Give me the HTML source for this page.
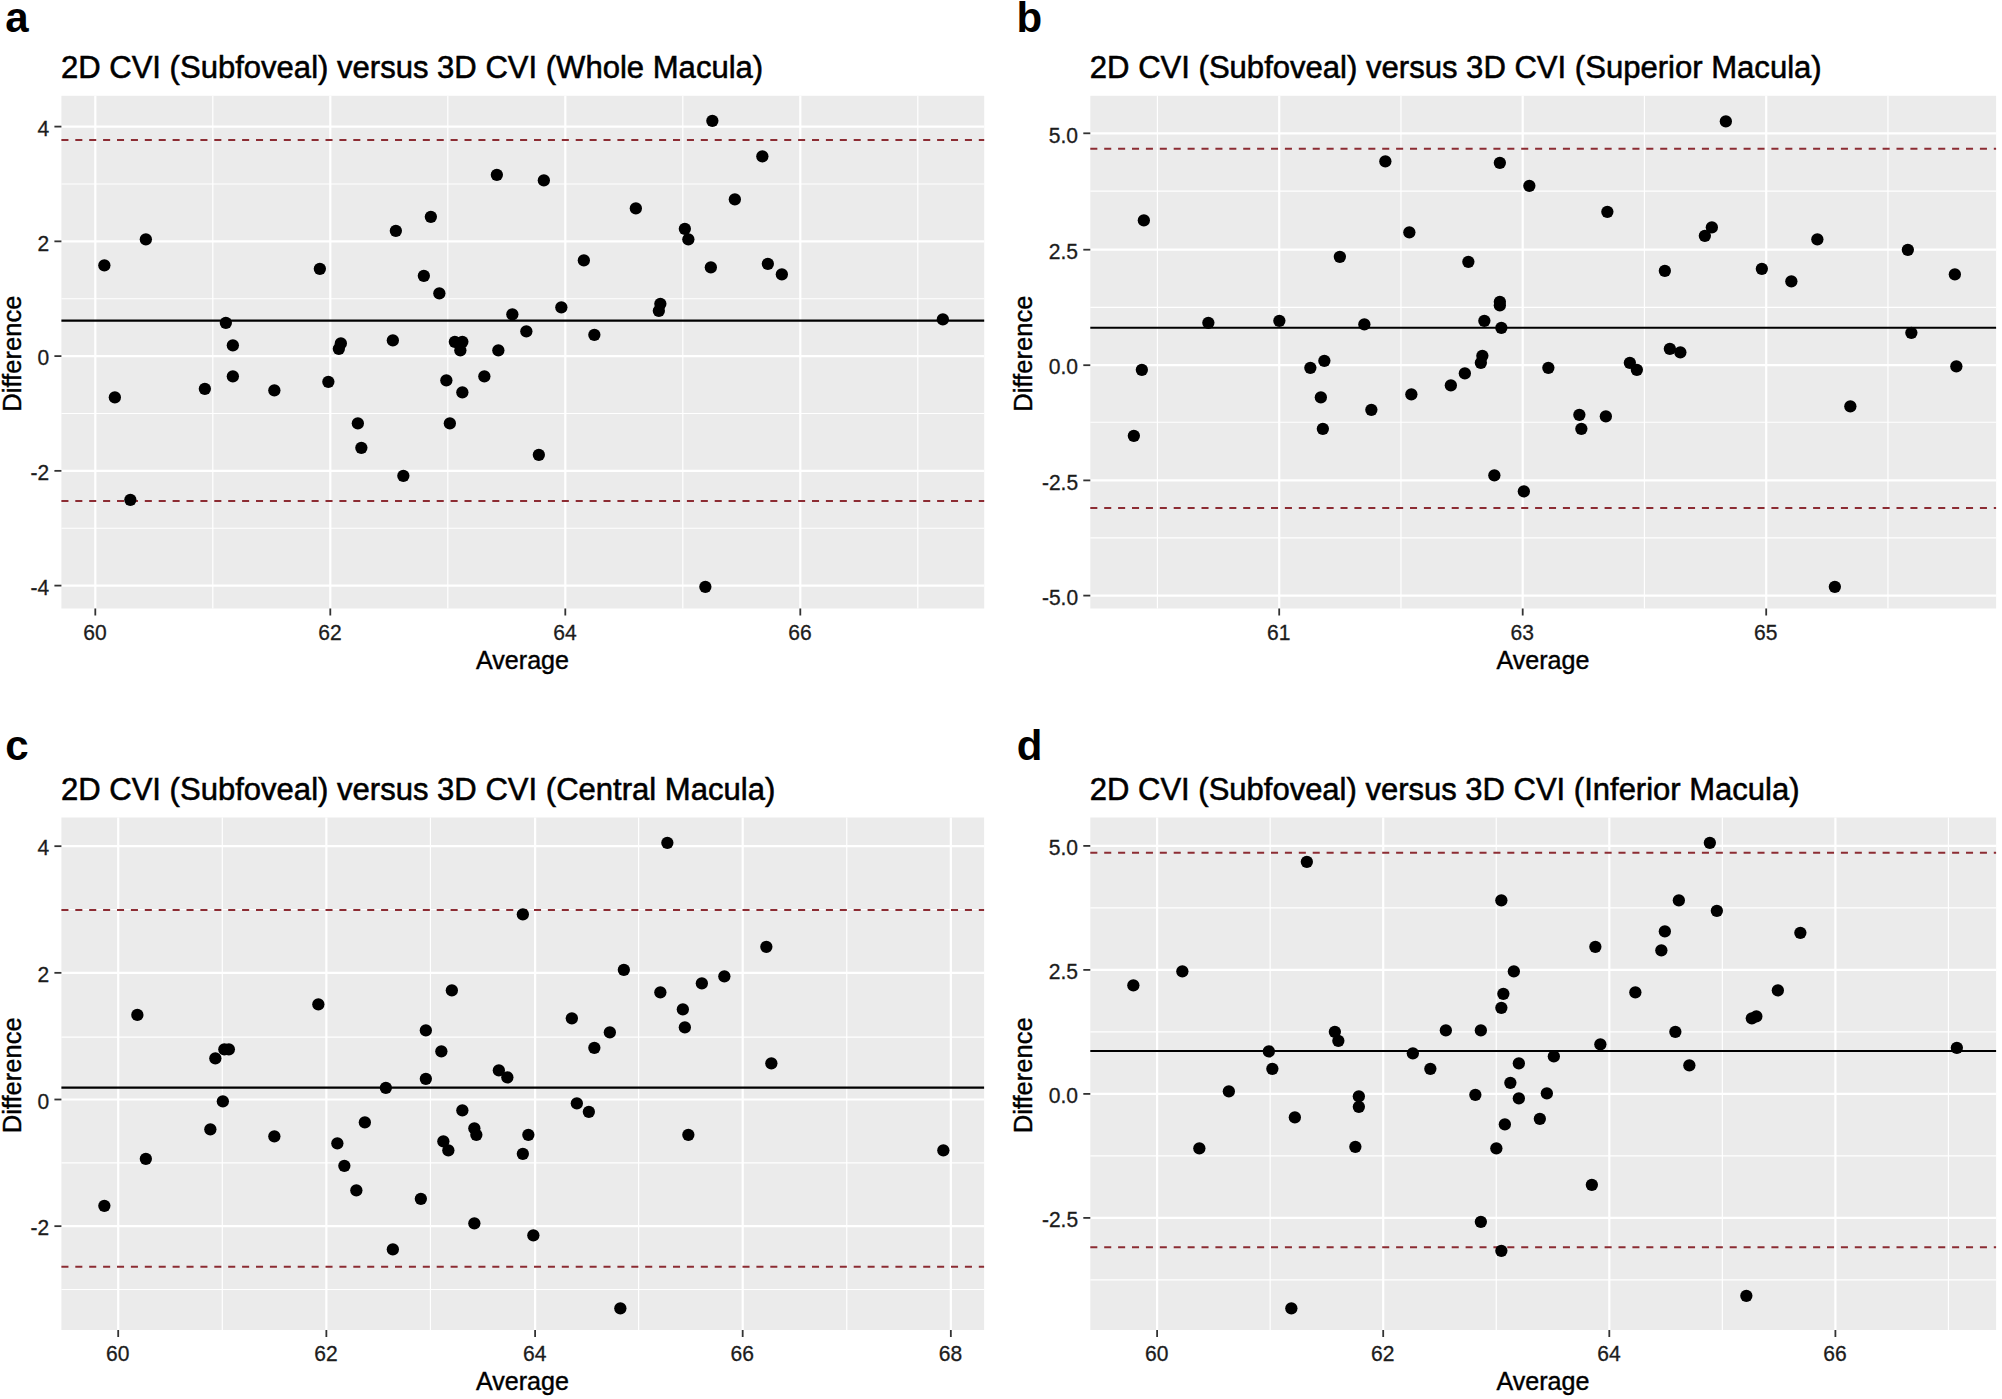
<!DOCTYPE html>
<html lang="en">
<head>
<meta charset="utf-8">
<title>Bland-Altman plots: 2D CVI versus 3D CVI</title>
<style>
html,body{margin:0;padding:0;background:#fff;}
body{width:2002px;height:1399px;overflow:hidden;}
svg{display:block;}
text{font-family:"Liberation Sans",Arial,Helvetica,sans-serif;}
.ttl{font-size:30.6px;fill:#000;stroke:#000;stroke-width:0.55px;}
.axt{font-size:25.1px;fill:#000;stroke:#000;stroke-width:0.4px;}
.tk{font-size:21.9px;fill:#1c1c1c;stroke:#1c1c1c;stroke-width:0.3px;}
.lt{font-size:42px;font-weight:bold;fill:#000;}
.maj{stroke:#fff;stroke-width:2.2;}
.min{stroke:#fff;stroke-width:1.2;}
.red{stroke:#8c2c33;stroke-width:2;stroke-dasharray:7.05 6.85;fill:none;}
.blk{stroke:#000;stroke-width:2.1;}
.tm{stroke:#333333;stroke-width:1.8;}
.pt{fill:#000;}
</style>
</head>
<body>
<svg width="2002" height="1399" viewBox="0 0 2002 1399">
<rect x="0" y="0" width="2002" height="1399" fill="#fff"/>
<g>
<text class="lt" x="5.3" y="32.2">a</text>
<text class="ttl" x="60.9" y="78.3" textLength="702.3" lengthAdjust="spacingAndGlyphs">2D CVI (Subfoveal) versus 3D CVI (Whole Macula)</text>
<rect x="61.4" y="95.8" width="922.8" height="512.7" fill="#ebebeb"/>
<line class="min" x1="61.4" x2="984.2" y1="183.98" y2="183.98"/>
<line class="min" x1="61.4" x2="984.2" y1="298.73" y2="298.73"/>
<line class="min" x1="61.4" x2="984.2" y1="413.48" y2="413.48"/>
<line class="min" x1="61.4" x2="984.2" y1="528.23" y2="528.23"/>
<line class="min" x1="212.8" x2="212.8" y1="95.8" y2="608.5"/>
<line class="min" x1="447.8" x2="447.8" y1="95.8" y2="608.5"/>
<line class="min" x1="682.8" x2="682.8" y1="95.8" y2="608.5"/>
<line class="min" x1="917.8" x2="917.8" y1="95.8" y2="608.5"/>
<line class="maj" x1="61.4" x2="984.2" y1="126.6" y2="126.6"/>
<line class="maj" x1="61.4" x2="984.2" y1="241.35" y2="241.35"/>
<line class="maj" x1="61.4" x2="984.2" y1="356.1" y2="356.1"/>
<line class="maj" x1="61.4" x2="984.2" y1="470.85" y2="470.85"/>
<line class="maj" x1="61.4" x2="984.2" y1="585.6" y2="585.6"/>
<line class="maj" x1="95.3" x2="95.3" y1="95.8" y2="608.5"/>
<line class="maj" x1="330.3" x2="330.3" y1="95.8" y2="608.5"/>
<line class="maj" x1="565.3" x2="565.3" y1="95.8" y2="608.5"/>
<line class="maj" x1="800.3" x2="800.3" y1="95.8" y2="608.5"/>
<line class="blk" x1="61.4" x2="984.2" y1="320.6" y2="320.6"/>
<line class="red" x1="61.4" x2="984.2" y1="140" y2="140"/>
<line class="red" x1="61.4" x2="984.2" y1="501" y2="501"/>
<line class="tm" x1="54.4" x2="61.4" y1="126.6" y2="126.6"/>
<text class="tk" text-anchor="end" x="49.2" y="135.8" textLength="11.7" lengthAdjust="spacingAndGlyphs">4</text>
<line class="tm" x1="54.4" x2="61.4" y1="241.35" y2="241.35"/>
<text class="tk" text-anchor="end" x="49.2" y="250.55" textLength="11.7" lengthAdjust="spacingAndGlyphs">2</text>
<line class="tm" x1="54.4" x2="61.4" y1="356.1" y2="356.1"/>
<text class="tk" text-anchor="end" x="49.2" y="365.3" textLength="11.7" lengthAdjust="spacingAndGlyphs">0</text>
<line class="tm" x1="54.4" x2="61.4" y1="470.85" y2="470.85"/>
<text class="tk" text-anchor="end" x="49.2" y="480.05" textLength="18.6" lengthAdjust="spacingAndGlyphs">-2</text>
<line class="tm" x1="54.4" x2="61.4" y1="585.6" y2="585.6"/>
<text class="tk" text-anchor="end" x="49.2" y="594.8" textLength="18.6" lengthAdjust="spacingAndGlyphs">-4</text>
<line class="tm" x1="95.3" x2="95.3" y1="608.5" y2="615.5"/>
<text class="tk" text-anchor="middle" x="94.9" y="639.9" textLength="23.4" lengthAdjust="spacingAndGlyphs">60</text>
<line class="tm" x1="330.3" x2="330.3" y1="608.5" y2="615.5"/>
<text class="tk" text-anchor="middle" x="329.9" y="639.9" textLength="23.4" lengthAdjust="spacingAndGlyphs">62</text>
<line class="tm" x1="565.3" x2="565.3" y1="608.5" y2="615.5"/>
<text class="tk" text-anchor="middle" x="564.9" y="639.9" textLength="23.4" lengthAdjust="spacingAndGlyphs">64</text>
<line class="tm" x1="800.3" x2="800.3" y1="608.5" y2="615.5"/>
<text class="tk" text-anchor="middle" x="799.9" y="639.9" textLength="23.4" lengthAdjust="spacingAndGlyphs">66</text>
<text class="axt" text-anchor="middle" x="522.5" y="669.2" textLength="92.9" lengthAdjust="spacingAndGlyphs">Average</text>
<text class="axt" text-anchor="middle" transform="translate(21.2 353.65) rotate(-90)" textLength="116.2" lengthAdjust="spacingAndGlyphs">Difference</text>
<circle class="pt" cx="104.35" cy="265.35" r="6.15"/>
<circle class="pt" cx="114.85" cy="397.35" r="6.15"/>
<circle class="pt" cx="130.35" cy="499.85" r="6.15"/>
<circle class="pt" cx="145.85" cy="239.35" r="6.15"/>
<circle class="pt" cx="204.85" cy="388.85" r="6.15"/>
<circle class="pt" cx="225.85" cy="322.85" r="6.15"/>
<circle class="pt" cx="232.85" cy="345.35" r="6.15"/>
<circle class="pt" cx="232.85" cy="376.35" r="6.15"/>
<circle class="pt" cx="274.35" cy="390.35" r="6.15"/>
<circle class="pt" cx="319.85" cy="268.85" r="6.15"/>
<circle class="pt" cx="328.35" cy="381.85" r="6.15"/>
<circle class="pt" cx="338.85" cy="348.85" r="6.15"/>
<circle class="pt" cx="340.85" cy="343.35" r="6.15"/>
<circle class="pt" cx="357.85" cy="423.35" r="6.15"/>
<circle class="pt" cx="361.35" cy="447.85" r="6.15"/>
<circle class="pt" cx="392.85" cy="340.35" r="6.15"/>
<circle class="pt" cx="395.85" cy="230.85" r="6.15"/>
<circle class="pt" cx="403.35" cy="475.85" r="6.15"/>
<circle class="pt" cx="423.85" cy="275.85" r="6.15"/>
<circle class="pt" cx="430.85" cy="216.85" r="6.15"/>
<circle class="pt" cx="439.35" cy="293.35" r="6.15"/>
<circle class="pt" cx="446.35" cy="380.35" r="6.15"/>
<circle class="pt" cx="449.85" cy="423.35" r="6.15"/>
<circle class="pt" cx="454.85" cy="341.85" r="6.15"/>
<circle class="pt" cx="460.35" cy="350.35" r="6.15"/>
<circle class="pt" cx="462.35" cy="341.85" r="6.15"/>
<circle class="pt" cx="462.35" cy="392.35" r="6.15"/>
<circle class="pt" cx="484.35" cy="376.35" r="6.15"/>
<circle class="pt" cx="496.85" cy="174.85" r="6.15"/>
<circle class="pt" cx="498.35" cy="350.35" r="6.15"/>
<circle class="pt" cx="512.35" cy="314.35" r="6.15"/>
<circle class="pt" cx="526.35" cy="331.35" r="6.15"/>
<circle class="pt" cx="538.85" cy="454.85" r="6.15"/>
<circle class="pt" cx="543.85" cy="180.35" r="6.15"/>
<circle class="pt" cx="561.35" cy="307.35" r="6.15"/>
<circle class="pt" cx="583.85" cy="260.35" r="6.15"/>
<circle class="pt" cx="594.35" cy="334.85" r="6.15"/>
<circle class="pt" cx="635.85" cy="208.35" r="6.15"/>
<circle class="pt" cx="658.85" cy="310.85" r="6.15"/>
<circle class="pt" cx="660.35" cy="303.85" r="6.15"/>
<circle class="pt" cx="684.85" cy="228.85" r="6.15"/>
<circle class="pt" cx="688.35" cy="239.35" r="6.15"/>
<circle class="pt" cx="710.85" cy="267.35" r="6.15"/>
<circle class="pt" cx="705.35" cy="586.85" r="6.15"/>
<circle class="pt" cx="712.35" cy="120.85" r="6.15"/>
<circle class="pt" cx="734.85" cy="199.35" r="6.15"/>
<circle class="pt" cx="762.35" cy="156.35" r="6.15"/>
<circle class="pt" cx="767.85" cy="263.85" r="6.15"/>
<circle class="pt" cx="781.85" cy="274.35" r="6.15"/>
<circle class="pt" cx="942.85" cy="319.35" r="6.15"/>
</g>
<g>
<text class="lt" x="1016.6" y="32.2">b</text>
<text class="ttl" x="1089.8" y="78.3" textLength="731.9" lengthAdjust="spacingAndGlyphs">2D CVI (Subfoveal) versus 3D CVI (Superior Macula)</text>
<rect x="1090.3" y="95.8" width="905.8" height="512.7" fill="#ebebeb"/>
<line class="min" x1="1090.3" x2="1996.1" y1="191.09" y2="191.09"/>
<line class="min" x1="1090.3" x2="1996.1" y1="307.3" y2="307.3"/>
<line class="min" x1="1090.3" x2="1996.1" y1="422.24" y2="422.24"/>
<line class="min" x1="1090.3" x2="1996.1" y1="537.81" y2="537.81"/>
<line class="min" x1="1157.45" x2="1157.45" y1="95.8" y2="608.5"/>
<line class="min" x1="1400.95" x2="1400.95" y1="95.8" y2="608.5"/>
<line class="min" x1="1644.45" x2="1644.45" y1="95.8" y2="608.5"/>
<line class="min" x1="1887.95" x2="1887.95" y1="95.8" y2="608.5"/>
<line class="maj" x1="1090.3" x2="1996.1" y1="133.3" y2="133.3"/>
<line class="maj" x1="1090.3" x2="1996.1" y1="249.7" y2="249.7"/>
<line class="maj" x1="1090.3" x2="1996.1" y1="365.2" y2="365.2"/>
<line class="maj" x1="1090.3" x2="1996.1" y1="480.4" y2="480.4"/>
<line class="maj" x1="1090.3" x2="1996.1" y1="595.6" y2="595.6"/>
<line class="maj" x1="1279.2" x2="1279.2" y1="95.8" y2="608.5"/>
<line class="maj" x1="1522.7" x2="1522.7" y1="95.8" y2="608.5"/>
<line class="maj" x1="1766.2" x2="1766.2" y1="95.8" y2="608.5"/>
<line class="blk" x1="1090.3" x2="1996.1" y1="327.8" y2="327.8"/>
<line class="red" x1="1090.3" x2="1996.1" y1="148.8" y2="148.8"/>
<line class="red" x1="1090.3" x2="1996.1" y1="508" y2="508"/>
<line class="tm" x1="1083.3" x2="1090.3" y1="133.3" y2="133.3"/>
<text class="tk" text-anchor="end" x="1078.1" y="142.5" textLength="29.3" lengthAdjust="spacingAndGlyphs">5.0</text>
<line class="tm" x1="1083.3" x2="1090.3" y1="249.7" y2="249.7"/>
<text class="tk" text-anchor="end" x="1078.1" y="258.9" textLength="29.3" lengthAdjust="spacingAndGlyphs">2.5</text>
<line class="tm" x1="1083.3" x2="1090.3" y1="365.2" y2="365.2"/>
<text class="tk" text-anchor="end" x="1078.1" y="374.4" textLength="29.3" lengthAdjust="spacingAndGlyphs">0.0</text>
<line class="tm" x1="1083.3" x2="1090.3" y1="480.4" y2="480.4"/>
<text class="tk" text-anchor="end" x="1078.1" y="489.6" textLength="36.2" lengthAdjust="spacingAndGlyphs">-2.5</text>
<line class="tm" x1="1083.3" x2="1090.3" y1="595.6" y2="595.6"/>
<text class="tk" text-anchor="end" x="1078.1" y="604.8" textLength="36.2" lengthAdjust="spacingAndGlyphs">-5.0</text>
<line class="tm" x1="1279.2" x2="1279.2" y1="608.5" y2="615.5"/>
<text class="tk" text-anchor="middle" x="1278.8" y="639.9" textLength="23.4" lengthAdjust="spacingAndGlyphs">61</text>
<line class="tm" x1="1522.7" x2="1522.7" y1="608.5" y2="615.5"/>
<text class="tk" text-anchor="middle" x="1522.3" y="639.9" textLength="23.4" lengthAdjust="spacingAndGlyphs">63</text>
<line class="tm" x1="1766.2" x2="1766.2" y1="608.5" y2="615.5"/>
<text class="tk" text-anchor="middle" x="1765.8" y="639.9" textLength="23.4" lengthAdjust="spacingAndGlyphs">65</text>
<text class="axt" text-anchor="middle" x="1542.9" y="669.2" textLength="92.9" lengthAdjust="spacingAndGlyphs">Average</text>
<text class="axt" text-anchor="middle" transform="translate(1031.8 353.65) rotate(-90)" textLength="116.2" lengthAdjust="spacingAndGlyphs">Difference</text>
<circle class="pt" cx="1133.85" cy="435.85" r="6.15"/>
<circle class="pt" cx="1141.85" cy="369.85" r="6.15"/>
<circle class="pt" cx="1143.85" cy="220.35" r="6.15"/>
<circle class="pt" cx="1208.35" cy="322.85" r="6.15"/>
<circle class="pt" cx="1279.35" cy="320.85" r="6.15"/>
<circle class="pt" cx="1310.35" cy="367.85" r="6.15"/>
<circle class="pt" cx="1324.35" cy="360.85" r="6.15"/>
<circle class="pt" cx="1320.85" cy="397.35" r="6.15"/>
<circle class="pt" cx="1322.85" cy="428.85" r="6.15"/>
<circle class="pt" cx="1339.85" cy="256.85" r="6.15"/>
<circle class="pt" cx="1364.35" cy="324.35" r="6.15"/>
<circle class="pt" cx="1371.35" cy="409.85" r="6.15"/>
<circle class="pt" cx="1385.35" cy="161.35" r="6.15"/>
<circle class="pt" cx="1409.35" cy="232.35" r="6.15"/>
<circle class="pt" cx="1411.35" cy="394.35" r="6.15"/>
<circle class="pt" cx="1450.85" cy="385.35" r="6.15"/>
<circle class="pt" cx="1464.85" cy="373.35" r="6.15"/>
<circle class="pt" cx="1468.35" cy="261.85" r="6.15"/>
<circle class="pt" cx="1480.85" cy="362.85" r="6.15"/>
<circle class="pt" cx="1482.35" cy="355.85" r="6.15"/>
<circle class="pt" cx="1484.35" cy="320.85" r="6.15"/>
<circle class="pt" cx="1494.35" cy="475.35" r="6.15"/>
<circle class="pt" cx="1499.85" cy="162.85" r="6.15"/>
<circle class="pt" cx="1499.85" cy="301.85" r="6.15"/>
<circle class="pt" cx="1499.85" cy="305.35" r="6.15"/>
<circle class="pt" cx="1501.35" cy="327.85" r="6.15"/>
<circle class="pt" cx="1523.85" cy="491.35" r="6.15"/>
<circle class="pt" cx="1529.35" cy="185.85" r="6.15"/>
<circle class="pt" cx="1548.35" cy="367.85" r="6.15"/>
<circle class="pt" cx="1579.35" cy="414.85" r="6.15"/>
<circle class="pt" cx="1581.35" cy="428.85" r="6.15"/>
<circle class="pt" cx="1605.85" cy="416.35" r="6.15"/>
<circle class="pt" cx="1607.35" cy="211.85" r="6.15"/>
<circle class="pt" cx="1629.85" cy="362.85" r="6.15"/>
<circle class="pt" cx="1636.85" cy="369.85" r="6.15"/>
<circle class="pt" cx="1664.85" cy="270.85" r="6.15"/>
<circle class="pt" cx="1669.85" cy="348.85" r="6.15"/>
<circle class="pt" cx="1680.35" cy="352.35" r="6.15"/>
<circle class="pt" cx="1704.85" cy="235.85" r="6.15"/>
<circle class="pt" cx="1711.85" cy="227.35" r="6.15"/>
<circle class="pt" cx="1725.85" cy="121.35" r="6.15"/>
<circle class="pt" cx="1761.85" cy="268.85" r="6.15"/>
<circle class="pt" cx="1791.35" cy="281.35" r="6.15"/>
<circle class="pt" cx="1817.35" cy="239.35" r="6.15"/>
<circle class="pt" cx="1834.85" cy="586.85" r="6.15"/>
<circle class="pt" cx="1850.35" cy="406.35" r="6.15"/>
<circle class="pt" cx="1907.85" cy="249.85" r="6.15"/>
<circle class="pt" cx="1911.35" cy="332.85" r="6.15"/>
<circle class="pt" cx="1954.85" cy="274.35" r="6.15"/>
<circle class="pt" cx="1956.35" cy="366.35" r="6.15"/>
</g>
<g>
<text class="lt" x="5.3" y="759.7">c</text>
<text class="ttl" x="60.9" y="799.8" textLength="714.4" lengthAdjust="spacingAndGlyphs">2D CVI (Subfoveal) versus 3D CVI (Central Macula)</text>
<rect x="61.4" y="817.5" width="922.7" height="512.5" fill="#ebebeb"/>
<line class="min" x1="61.4" x2="984.1" y1="909.51" y2="909.51"/>
<line class="min" x1="61.4" x2="984.1" y1="1037.2" y2="1037.2"/>
<line class="min" x1="61.4" x2="984.1" y1="1162.83" y2="1162.83"/>
<line class="min" x1="61.4" x2="984.1" y1="1289.49" y2="1289.49"/>
<line class="min" x1="222.28" x2="222.28" y1="817.5" y2="1330"/>
<line class="min" x1="430.44" x2="430.44" y1="817.5" y2="1330"/>
<line class="min" x1="638.6" x2="638.6" y1="817.5" y2="1330"/>
<line class="min" x1="846.76" x2="846.76" y1="817.5" y2="1330"/>
<line class="maj" x1="61.4" x2="984.1" y1="846.18" y2="846.18"/>
<line class="maj" x1="61.4" x2="984.1" y1="972.84" y2="972.84"/>
<line class="maj" x1="61.4" x2="984.1" y1="1099.5" y2="1099.5"/>
<line class="maj" x1="61.4" x2="984.1" y1="1226.16" y2="1226.16"/>
<line class="maj" x1="118.2" x2="118.2" y1="817.5" y2="1330"/>
<line class="maj" x1="326.36" x2="326.36" y1="817.5" y2="1330"/>
<line class="maj" x1="535.1" x2="535.1" y1="817.5" y2="1330"/>
<line class="maj" x1="742.68" x2="742.68" y1="817.5" y2="1330"/>
<line class="maj" x1="950.84" x2="950.84" y1="817.5" y2="1330"/>
<line class="blk" x1="61.4" x2="984.1" y1="1087.6" y2="1087.6"/>
<line class="red" x1="61.4" x2="984.1" y1="910" y2="910"/>
<line class="red" x1="61.4" x2="984.1" y1="1266.7" y2="1266.7"/>
<line class="tm" x1="54.4" x2="61.4" y1="846.18" y2="846.18"/>
<text class="tk" text-anchor="end" x="49.2" y="855.38" textLength="11.7" lengthAdjust="spacingAndGlyphs">4</text>
<line class="tm" x1="54.4" x2="61.4" y1="972.84" y2="972.84"/>
<text class="tk" text-anchor="end" x="49.2" y="982.04" textLength="11.7" lengthAdjust="spacingAndGlyphs">2</text>
<line class="tm" x1="54.4" x2="61.4" y1="1099.5" y2="1099.5"/>
<text class="tk" text-anchor="end" x="49.2" y="1108.7" textLength="11.7" lengthAdjust="spacingAndGlyphs">0</text>
<line class="tm" x1="54.4" x2="61.4" y1="1226.16" y2="1226.16"/>
<text class="tk" text-anchor="end" x="49.2" y="1235.36" textLength="18.6" lengthAdjust="spacingAndGlyphs">-2</text>
<line class="tm" x1="118.2" x2="118.2" y1="1330" y2="1337"/>
<text class="tk" text-anchor="middle" x="117.8" y="1361.4" textLength="23.4" lengthAdjust="spacingAndGlyphs">60</text>
<line class="tm" x1="326.36" x2="326.36" y1="1330" y2="1337"/>
<text class="tk" text-anchor="middle" x="325.96" y="1361.4" textLength="23.4" lengthAdjust="spacingAndGlyphs">62</text>
<line class="tm" x1="535.1" x2="535.1" y1="1330" y2="1337"/>
<text class="tk" text-anchor="middle" x="534.7" y="1361.4" textLength="23.4" lengthAdjust="spacingAndGlyphs">64</text>
<line class="tm" x1="742.68" x2="742.68" y1="1330" y2="1337"/>
<text class="tk" text-anchor="middle" x="742.28" y="1361.4" textLength="23.4" lengthAdjust="spacingAndGlyphs">66</text>
<line class="tm" x1="950.84" x2="950.84" y1="1330" y2="1337"/>
<text class="tk" text-anchor="middle" x="950.44" y="1361.4" textLength="23.4" lengthAdjust="spacingAndGlyphs">68</text>
<text class="axt" text-anchor="middle" x="522.45" y="1390" textLength="92.9" lengthAdjust="spacingAndGlyphs">Average</text>
<text class="axt" text-anchor="middle" transform="translate(21.2 1075.25) rotate(-90)" textLength="116.2" lengthAdjust="spacingAndGlyphs">Difference</text>
<circle class="pt" cx="104.35" cy="1205.85" r="6.15"/>
<circle class="pt" cx="137.35" cy="1014.85" r="6.15"/>
<circle class="pt" cx="145.85" cy="1158.85" r="6.15"/>
<circle class="pt" cx="210.35" cy="1129.35" r="6.15"/>
<circle class="pt" cx="215.35" cy="1058.35" r="6.15"/>
<circle class="pt" cx="222.85" cy="1101.35" r="6.15"/>
<circle class="pt" cx="224.35" cy="1049.35" r="6.15"/>
<circle class="pt" cx="228.85" cy="1049.35" r="6.15"/>
<circle class="pt" cx="274.35" cy="1136.35" r="6.15"/>
<circle class="pt" cx="318.35" cy="1004.35" r="6.15"/>
<circle class="pt" cx="337.35" cy="1143.35" r="6.15"/>
<circle class="pt" cx="344.35" cy="1165.85" r="6.15"/>
<circle class="pt" cx="356.35" cy="1190.35" r="6.15"/>
<circle class="pt" cx="364.85" cy="1122.35" r="6.15"/>
<circle class="pt" cx="385.85" cy="1087.85" r="6.15"/>
<circle class="pt" cx="392.85" cy="1249.35" r="6.15"/>
<circle class="pt" cx="420.85" cy="1198.85" r="6.15"/>
<circle class="pt" cx="425.85" cy="1030.35" r="6.15"/>
<circle class="pt" cx="425.85" cy="1078.85" r="6.15"/>
<circle class="pt" cx="441.35" cy="1051.35" r="6.15"/>
<circle class="pt" cx="443.35" cy="1141.35" r="6.15"/>
<circle class="pt" cx="448.35" cy="1150.35" r="6.15"/>
<circle class="pt" cx="451.85" cy="990.35" r="6.15"/>
<circle class="pt" cx="462.35" cy="1110.35" r="6.15"/>
<circle class="pt" cx="474.35" cy="1128.35" r="6.15"/>
<circle class="pt" cx="476.35" cy="1134.85" r="6.15"/>
<circle class="pt" cx="474.35" cy="1223.35" r="6.15"/>
<circle class="pt" cx="498.85" cy="1070.35" r="6.15"/>
<circle class="pt" cx="507.35" cy="1077.35" r="6.15"/>
<circle class="pt" cx="522.85" cy="914.35" r="6.15"/>
<circle class="pt" cx="522.85" cy="1153.85" r="6.15"/>
<circle class="pt" cx="528.35" cy="1134.85" r="6.15"/>
<circle class="pt" cx="533.35" cy="1235.35" r="6.15"/>
<circle class="pt" cx="571.85" cy="1018.35" r="6.15"/>
<circle class="pt" cx="576.85" cy="1103.35" r="6.15"/>
<circle class="pt" cx="588.85" cy="1111.85" r="6.15"/>
<circle class="pt" cx="594.35" cy="1047.85" r="6.15"/>
<circle class="pt" cx="609.85" cy="1032.35" r="6.15"/>
<circle class="pt" cx="623.85" cy="969.85" r="6.15"/>
<circle class="pt" cx="620.35" cy="1308.35" r="6.15"/>
<circle class="pt" cx="660.35" cy="992.35" r="6.15"/>
<circle class="pt" cx="667.35" cy="842.85" r="6.15"/>
<circle class="pt" cx="682.85" cy="1009.35" r="6.15"/>
<circle class="pt" cx="684.85" cy="1027.35" r="6.15"/>
<circle class="pt" cx="688.35" cy="1134.85" r="6.15"/>
<circle class="pt" cx="701.85" cy="983.35" r="6.15"/>
<circle class="pt" cx="724.35" cy="976.35" r="6.15"/>
<circle class="pt" cx="766.35" cy="946.85" r="6.15"/>
<circle class="pt" cx="771.35" cy="1063.35" r="6.15"/>
<circle class="pt" cx="943.35" cy="1150.35" r="6.15"/>
</g>
<g>
<text class="lt" x="1016.8" y="759.7">d</text>
<text class="ttl" x="1089.8" y="799.8" textLength="709.7" lengthAdjust="spacingAndGlyphs">2D CVI (Subfoveal) versus 3D CVI (Inferior Macula)</text>
<rect x="1090.3" y="817.5" width="905.8" height="512.5" fill="#ebebeb"/>
<line class="min" x1="1090.3" x2="1996.1" y1="907.9" y2="907.9"/>
<line class="min" x1="1090.3" x2="1996.1" y1="1031.9" y2="1031.9"/>
<line class="min" x1="1090.3" x2="1996.1" y1="1155.9" y2="1155.9"/>
<line class="min" x1="1090.3" x2="1996.1" y1="1279.9" y2="1279.9"/>
<line class="min" x1="1270.15" x2="1270.15" y1="817.5" y2="1330"/>
<line class="min" x1="1496.25" x2="1496.25" y1="817.5" y2="1330"/>
<line class="min" x1="1722.35" x2="1722.35" y1="817.5" y2="1330"/>
<line class="min" x1="1948.45" x2="1948.45" y1="817.5" y2="1330"/>
<line class="maj" x1="1090.3" x2="1996.1" y1="845.9" y2="845.9"/>
<line class="maj" x1="1090.3" x2="1996.1" y1="969.9" y2="969.9"/>
<line class="maj" x1="1090.3" x2="1996.1" y1="1093.9" y2="1093.9"/>
<line class="maj" x1="1090.3" x2="1996.1" y1="1217.9" y2="1217.9"/>
<line class="maj" x1="1157.1" x2="1157.1" y1="817.5" y2="1330"/>
<line class="maj" x1="1383.2" x2="1383.2" y1="817.5" y2="1330"/>
<line class="maj" x1="1609.3" x2="1609.3" y1="817.5" y2="1330"/>
<line class="maj" x1="1835.4" x2="1835.4" y1="817.5" y2="1330"/>
<line class="blk" x1="1090.3" x2="1996.1" y1="1051" y2="1051"/>
<line class="red" x1="1090.3" x2="1996.1" y1="852.8" y2="852.8"/>
<line class="red" x1="1090.3" x2="1996.1" y1="1247.2" y2="1247.2"/>
<line class="tm" x1="1083.3" x2="1090.3" y1="845.9" y2="845.9"/>
<text class="tk" text-anchor="end" x="1078.1" y="855.1" textLength="29.3" lengthAdjust="spacingAndGlyphs">5.0</text>
<line class="tm" x1="1083.3" x2="1090.3" y1="969.9" y2="969.9"/>
<text class="tk" text-anchor="end" x="1078.1" y="979.1" textLength="29.3" lengthAdjust="spacingAndGlyphs">2.5</text>
<line class="tm" x1="1083.3" x2="1090.3" y1="1093.9" y2="1093.9"/>
<text class="tk" text-anchor="end" x="1078.1" y="1103.1" textLength="29.3" lengthAdjust="spacingAndGlyphs">0.0</text>
<line class="tm" x1="1083.3" x2="1090.3" y1="1217.9" y2="1217.9"/>
<text class="tk" text-anchor="end" x="1078.1" y="1227.1" textLength="36.2" lengthAdjust="spacingAndGlyphs">-2.5</text>
<line class="tm" x1="1157.1" x2="1157.1" y1="1330" y2="1337"/>
<text class="tk" text-anchor="middle" x="1156.7" y="1361.4" textLength="23.4" lengthAdjust="spacingAndGlyphs">60</text>
<line class="tm" x1="1383.2" x2="1383.2" y1="1330" y2="1337"/>
<text class="tk" text-anchor="middle" x="1382.8" y="1361.4" textLength="23.4" lengthAdjust="spacingAndGlyphs">62</text>
<line class="tm" x1="1609.3" x2="1609.3" y1="1330" y2="1337"/>
<text class="tk" text-anchor="middle" x="1608.9" y="1361.4" textLength="23.4" lengthAdjust="spacingAndGlyphs">64</text>
<line class="tm" x1="1835.4" x2="1835.4" y1="1330" y2="1337"/>
<text class="tk" text-anchor="middle" x="1835" y="1361.4" textLength="23.4" lengthAdjust="spacingAndGlyphs">66</text>
<text class="axt" text-anchor="middle" x="1542.9" y="1390" textLength="92.9" lengthAdjust="spacingAndGlyphs">Average</text>
<text class="axt" text-anchor="middle" transform="translate(1031.8 1075.25) rotate(-90)" textLength="116.2" lengthAdjust="spacingAndGlyphs">Difference</text>
<circle class="pt" cx="1133.35" cy="985.35" r="6.15"/>
<circle class="pt" cx="1182.35" cy="971.35" r="6.15"/>
<circle class="pt" cx="1199.35" cy="1148.35" r="6.15"/>
<circle class="pt" cx="1228.85" cy="1091.35" r="6.15"/>
<circle class="pt" cx="1268.85" cy="1051.35" r="6.15"/>
<circle class="pt" cx="1272.35" cy="1068.85" r="6.15"/>
<circle class="pt" cx="1294.85" cy="1117.35" r="6.15"/>
<circle class="pt" cx="1291.35" cy="1308.35" r="6.15"/>
<circle class="pt" cx="1306.85" cy="861.85" r="6.15"/>
<circle class="pt" cx="1334.85" cy="1031.85" r="6.15"/>
<circle class="pt" cx="1338.35" cy="1040.85" r="6.15"/>
<circle class="pt" cx="1355.35" cy="1146.85" r="6.15"/>
<circle class="pt" cx="1358.85" cy="1096.35" r="6.15"/>
<circle class="pt" cx="1358.85" cy="1106.85" r="6.15"/>
<circle class="pt" cx="1412.85" cy="1053.35" r="6.15"/>
<circle class="pt" cx="1430.35" cy="1068.85" r="6.15"/>
<circle class="pt" cx="1445.85" cy="1030.35" r="6.15"/>
<circle class="pt" cx="1475.35" cy="1094.85" r="6.15"/>
<circle class="pt" cx="1480.85" cy="1030.35" r="6.15"/>
<circle class="pt" cx="1480.85" cy="1221.85" r="6.15"/>
<circle class="pt" cx="1496.35" cy="1148.35" r="6.15"/>
<circle class="pt" cx="1501.35" cy="900.35" r="6.15"/>
<circle class="pt" cx="1501.35" cy="1007.85" r="6.15"/>
<circle class="pt" cx="1503.35" cy="993.85" r="6.15"/>
<circle class="pt" cx="1501.35" cy="1250.85" r="6.15"/>
<circle class="pt" cx="1504.85" cy="1124.35" r="6.15"/>
<circle class="pt" cx="1510.35" cy="1082.85" r="6.15"/>
<circle class="pt" cx="1513.85" cy="971.35" r="6.15"/>
<circle class="pt" cx="1518.85" cy="1063.35" r="6.15"/>
<circle class="pt" cx="1518.85" cy="1098.35" r="6.15"/>
<circle class="pt" cx="1539.85" cy="1118.85" r="6.15"/>
<circle class="pt" cx="1546.85" cy="1093.35" r="6.15"/>
<circle class="pt" cx="1553.85" cy="1056.35" r="6.15"/>
<circle class="pt" cx="1591.85" cy="1184.85" r="6.15"/>
<circle class="pt" cx="1595.35" cy="946.85" r="6.15"/>
<circle class="pt" cx="1600.35" cy="1044.35" r="6.15"/>
<circle class="pt" cx="1635.35" cy="992.35" r="6.15"/>
<circle class="pt" cx="1661.35" cy="950.35" r="6.15"/>
<circle class="pt" cx="1664.85" cy="931.35" r="6.15"/>
<circle class="pt" cx="1675.35" cy="1031.85" r="6.15"/>
<circle class="pt" cx="1678.85" cy="900.35" r="6.15"/>
<circle class="pt" cx="1689.35" cy="1065.35" r="6.15"/>
<circle class="pt" cx="1709.85" cy="842.85" r="6.15"/>
<circle class="pt" cx="1716.85" cy="910.85" r="6.15"/>
<circle class="pt" cx="1746.35" cy="1295.85" r="6.15"/>
<circle class="pt" cx="1751.85" cy="1018.35" r="6.15"/>
<circle class="pt" cx="1756.35" cy="1016.35" r="6.15"/>
<circle class="pt" cx="1777.85" cy="990.35" r="6.15"/>
<circle class="pt" cx="1800.35" cy="932.85" r="6.15"/>
<circle class="pt" cx="1956.85" cy="1047.85" r="6.15"/>
</g>
</svg>
</body>
</html>
